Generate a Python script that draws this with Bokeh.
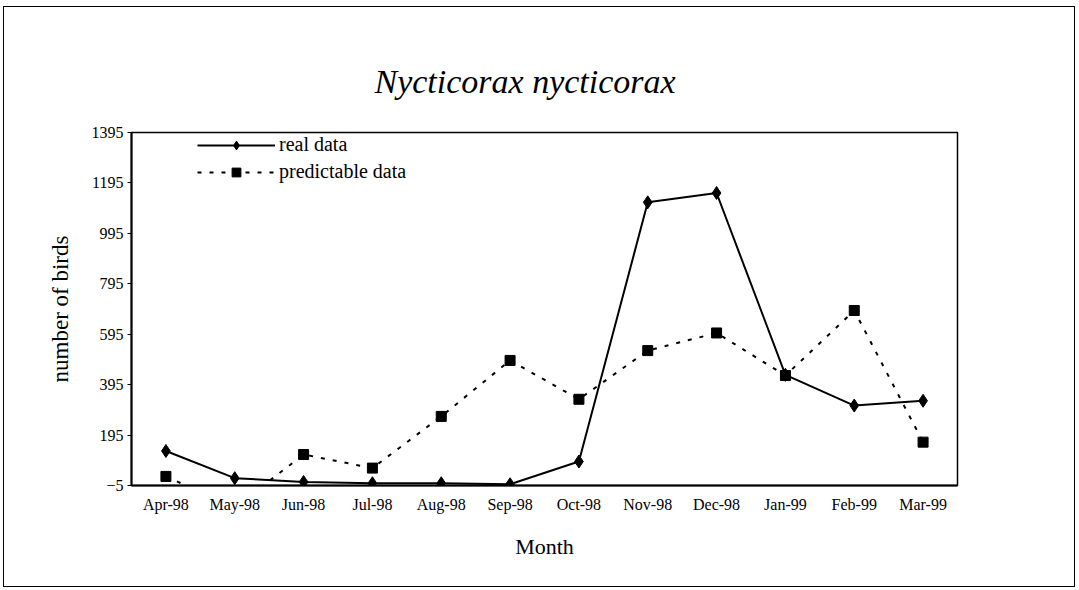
from bokeh.plotting import figure
from bokeh.models import FactorRange, Range1d, FixedTicker, Legend, LegendItem, Title
from bokeh.embed import file_html
from bokeh.resources import INLINE

months = ["Apr-98", "May-98", "Jun-98", "Jul-98", "Aug-98", "Sep-98",
          "Oct-98", "Nov-98", "Dec-98", "Jan-99", "Feb-99", "Mar-99"]
real_data = [132, 24, 9, 4, 4, 0, 90, 1118, 1155, 434, 312, 331]
predictable_data = [31, -92, 118, 64, 269, 491, 337, 530, 600, 431, 689, 167]
y_ticks = [-5, 195, 395, 595, 795, 995, 1195, 1395]

SERIF = "Liberation Serif"

p = figure(width=1072, height=581, x_range=FactorRange(*months, range_padding=0),
           y_range=Range1d(-5, 1395), output_backend="svg", toolbar_location=None,
           min_border_left=127, min_border_right=119, min_border_top=125, min_border_bottom=103)
p.styles = {"border": "1px solid black", "margin-top": "6px", "margin-left": "3px"}

p.title = Title(text="Nycticorax nycticorax", align="left", offset=243,
                text_font=SERIF, text_font_style="italic", text_font_size="34px",
                text_color="black", standoff=65)

p.xgrid.grid_line_color = None
p.ygrid.grid_line_color = None
p.outline_line_color = "black"
p.outline_line_width = 1.5
p.outline_line_alpha = 1

p.yaxis.ticker = FixedTicker(ticks=y_ticks)
p.yaxis.axis_label = "number of birds"
p.xaxis.axis_label = "Month"
for ax in (p.xaxis[0], p.yaxis[0]):
    ax.axis_label_text_font = SERIF
    ax.axis_label_text_font_style = "normal"
    ax.axis_label_text_color = "black"
    ax.major_label_text_font = SERIF
    ax.major_label_text_font_size = "16px"
    ax.major_label_text_color = "black"
    ax.axis_line_color = "black"
    ax.axis_line_width = 2
    ax.minor_tick_line_color = None
p.xaxis.axis_label_text_font_size = "22px"
p.yaxis.axis_label_text_font_size = "23px"
p.yaxis.major_tick_in = 0
p.yaxis.major_tick_out = 4
p.yaxis.major_tick_line_color = "black"
p.yaxis.major_label_standoff = 4
p.yaxis.axis_label_standoff = 16
p.xaxis.major_tick_line_color = None
p.xaxis.major_label_standoff = 4
p.xaxis.axis_label_standoff = 18

r1 = p.line(months, real_data, line_color="black", line_width=2)
m1 = p.scatter(months, real_data, marker="diamond", size=13, fill_color="black", line_color="black")
r2 = p.line(months, predictable_data, line_color="black", line_width=2, line_dash="4 8")
m2 = p.scatter(months, predictable_data, marker="square", size=10, fill_color="black", line_color="black")

legend = Legend(items=[LegendItem(label="real data", renderers=[r1, m1]),
                       LegendItem(label="predictable data", renderers=[r2, m2])],
                location=(66, 302), glyph_width=78, glyph_height=22, spacing=4,
                padding=0, margin=0, label_standoff=4,
                label_text_font=SERIF, label_text_font_size="20px", label_text_color="black",
                border_line_color=None, background_fill_alpha=0)
p.add_layout(legend)

open("out.html", "w").write(file_html(p, INLINE))
